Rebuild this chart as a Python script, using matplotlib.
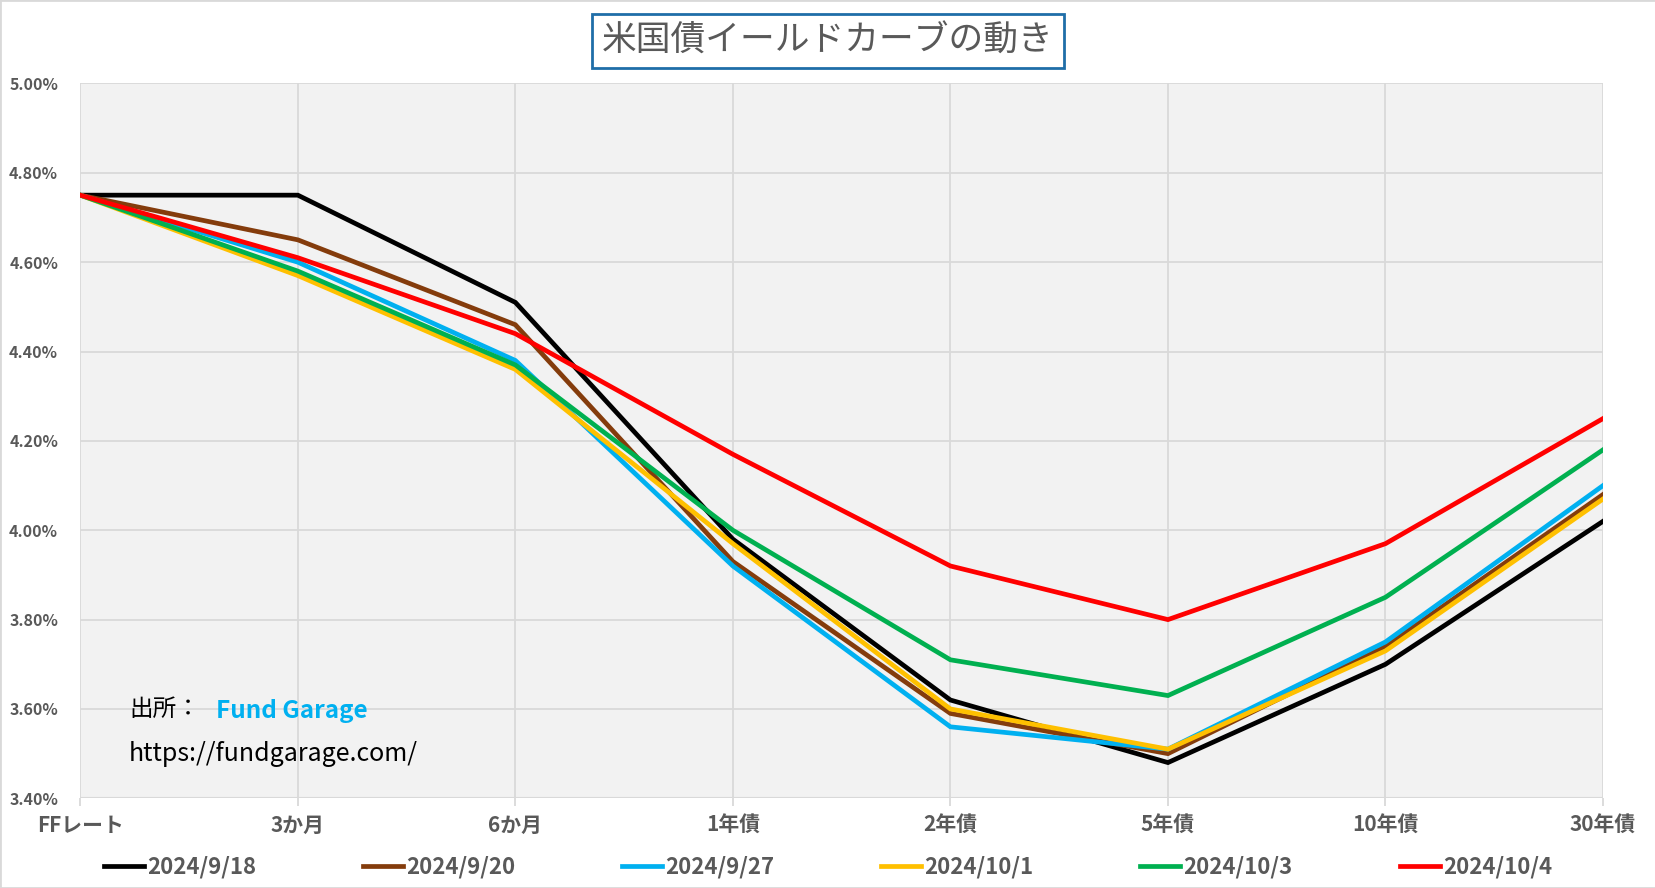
import matplotlib
matplotlib.use("Agg")
import matplotlib.pyplot as plt
from matplotlib.patches import Rectangle
from matplotlib.ticker import FuncFormatter

plt.rcParams['font.family'] = ['Noto Sans CJK JP', 'DejaVu Sans']

# 期間
kikan = ["FFレート", "3か月", "6か月", "1年債", "2年債", "5年債", "10年債", "30年債"]

# 各日付の利回り(%)
y_0918 = [4.75, 4.75, 4.51, 3.98, 3.62, 3.48, 3.70, 4.02]
y_0920 = [4.75, 4.65, 4.46, 3.93, 3.59, 3.50, 3.74, 4.08]
y_0927 = [4.75, 4.60, 4.38, 3.92, 3.56, 3.51, 3.75, 4.10]
y_1001 = [4.75, 4.57, 4.36, 3.97, 3.60, 3.51, 3.73, 4.07]
y_1003 = [4.75, 4.58, 4.37, 4.00, 3.71, 3.63, 3.85, 4.18]
y_1004 = [4.75, 4.61, 4.44, 4.17, 3.92, 3.80, 3.97, 4.25]

hizuke = ["2024/9/18", "2024/9/20", "2024/9/27", "2024/10/1", "2024/10/3", "2024/10/4"]
series = [y_0918, y_0920, y_0927, y_1001, y_1003, y_1004]
iro = ["#000000", "#843c0c", "#00b0f0", "#ffc000", "#00b050", "#ff0000"]

gray = "#595959"

fig = plt.figure(figsize=(16.56, 8.88), dpi=100)
ax = fig.add_axes([0.0485, 0.101, 0.9195, 0.805])
ax.set_facecolor("#f2f2f2")

x = list(range(len(kikan)))
for s, lab, c in zip(series, hizuke, iro):
    ax.plot(x, s, color=c, lw=3.4, label=lab, solid_joinstyle="miter")

ax.set_xlim(0, len(kikan) - 1)
ax.set_ylim(3.40, 5.00)
ax.set_yticks([3.40 + 0.2 * i for i in range(9)])
ax.yaxis.set_major_formatter(FuncFormatter(lambda v, p: f"{v:.2f}%"))
ax.set_xticks(x)
ax.set_xticklabels(kikan)
ax.grid(True, color="#d9d9d9", lw=1.3)
ax.set_axisbelow(True)
for sp in ax.spines.values():
    sp.set_visible(False)
ax.axhline(3.40, color="#d9d9d9", lw=1.5, zorder=1)
ax.tick_params(axis="y", length=0, pad=16, labelsize=11.5, labelcolor=gray)
ax.tick_params(axis="x", length=6, color="#d9d9d9", width=1.3, pad=6,
               labelsize=15, labelcolor=gray)
for t in ax.get_yticklabels() + ax.get_xticklabels():
    t.set_fontweight("bold")

# 出所
ax.text(0.032, 0.124, "出所：", transform=ax.transAxes, fontsize=17, color="black", va="center")
ax.text(0.089, 0.122, "Fund Garage", transform=ax.transAxes, fontsize=17.5, color="#00b0f0",
        fontweight="bold", va="center")
ax.text(0.032, 0.062, "https://fundgarage.com/", transform=ax.transAxes, fontsize=18,
        color="black", va="center")

# タイトル
fig.text(0.5, 1 - 39 / 841, "米国債イールドカーブの動き", ha="center", va="center",
         fontsize=25, color=gray,
         bbox=dict(boxstyle="square,pad=0.28", fc="white", ec="#1f6ea8", lw=2))

leg = fig.legend(loc="center", bbox_to_anchor=(0.5, 1 - 821 / 841), ncol=6, frameon=False,
                 handlelength=1.8, columnspacing=4.8, handletextpad=0.15, fontsize=16)
for t in leg.get_texts():
    t.set_color(gray)
    t.set_fontweight("bold")

fig.patches.append(Rectangle((0, 0), 1, 1, transform=fig.transFigure, fill=False,
                             ec="#d9d9d9", lw=2))

fig.savefig("out.png", dpi=100)
